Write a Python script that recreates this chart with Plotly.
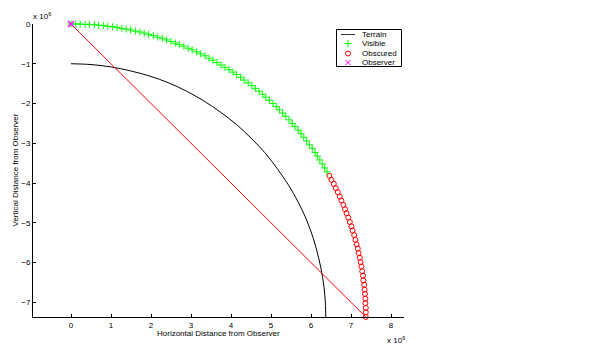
import plotly.graph_objects as go

# Line-of-sight profile, distances in units of 10^6 m
terrain_x = [0.0, 0.50, 1.00, 1.49, 1.97, 2.44, 2.89, 3.33, 3.74, 4.14, 4.50,
             4.84, 5.15, 5.43, 5.68, 5.89, 6.06, 6.19, 6.29, 6.35, 6.37]
terrain_y = [-1.00, -1.02, -1.08, -1.18, -1.31, -1.48, -1.69, -1.94, -2.22, -2.53, -2.87,
             -3.23, -3.63, -4.04, -4.48, -4.93, -5.40, -5.88, -6.37, -6.87, -7.37]

visible_x = [0.0, 0.12, 0.23, 0.35, 0.46, 0.58, 0.69, 0.81, 0.92, 1.04, 1.15, 1.27, 1.38,
             1.49, 1.61, 1.72, 1.83, 1.94, 2.06, 2.17, 2.28, 2.39, 2.50, 2.61, 2.71, 2.82,
             2.93, 3.03, 3.14, 3.24, 3.35, 3.45, 3.55, 3.65, 3.75, 3.85, 3.95, 4.05, 4.14,
             4.24, 4.33, 4.43, 4.52, 4.61, 4.70, 4.79, 4.87, 4.96, 5.05, 5.13, 5.21, 5.29,
             5.37, 5.45, 5.53, 5.60, 5.68, 5.75, 5.82, 5.89, 5.96, 6.03, 6.10, 6.16, 6.22,
             6.28, 6.34, 6.40]
visible_y = [0.0, 0.0, 0.0, -0.01, -0.01, -0.02, -0.03, -0.04, -0.06, -0.07, -0.09, -0.11,
             -0.13, -0.15, -0.18, -0.20, -0.23, -0.26, -0.29, -0.33, -0.36, -0.40, -0.44,
             -0.48, -0.52, -0.56, -0.61, -0.65, -0.70, -0.75, -0.80, -0.86, -0.91, -0.97,
             -1.03, -1.09, -1.15, -1.21, -1.27, -1.34, -1.41, -1.48, -1.55, -1.62, -1.69,
             -1.77, -1.84, -1.92, -2.00, -2.08, -2.16, -2.24, -2.32, -2.41, -2.50, -2.58,
             -2.67, -2.76, -2.85, -2.94, -3.04, -3.13, -3.23, -3.32, -3.42, -3.52, -3.62,
             -3.72]

obscured_x = [6.46, 6.51, 6.57, 6.62, 6.67, 6.72, 6.76, 6.81, 6.85, 6.89, 6.93, 6.97, 7.01,
              7.04, 7.08, 7.11, 7.14, 7.17, 7.19, 7.22, 7.24, 7.26, 7.28, 7.30, 7.31, 7.33,
              7.34, 7.35, 7.36, 7.36, 7.37, 7.37, 7.37]
obscured_y = [-3.82, -3.92, -4.02, -4.13, -4.23, -4.34, -4.44, -4.55, -4.66, -4.76, -4.87,
              -4.98, -5.09, -5.20, -5.31, -5.43, -5.54, -5.65, -5.76, -5.88, -5.99, -6.10,
              -6.22, -6.33, -6.45, -6.56, -6.68, -6.79, -6.91, -7.02, -7.14, -7.25, -7.37]

observer_x = [0.0]
observer_y = [0.0]

x_ticks = [0, 1, 2, 3, 4, 5, 6, 7, 8]
y_ticks = [0, -1, -2, -3, -4, -5, -6, -7]
legend_labels = ["Terrain", "Visible", "Obscured", "Observer"]

GREEN, RED, MAGENTA = "#00ff00", "#ff0000", "#ff00ff"

W, H = 600, 349
L, R, T, B = 33, 404, 24, 317          # plot area in pixels
FONT = dict(family="Liberation Sans, Arial, Helvetica, sans-serif", size=8, color="black")


def fx(p):
    return (p - L) / (R - L)


def fy(p):
    return (B - p) / (B - T)


def marker(sym, col, size=5, width=1):
    return dict(symbol=sym, size=size, color=col, line=dict(color=col, width=width))


fig = go.Figure()

fig.add_trace(go.Scatter(x=terrain_x, y=terrain_y, mode="lines",
                         line=dict(color="black", width=1, shape="spline"),
                         showlegend=False))
# line of sight from the observer to the farthest target
fig.add_trace(go.Scatter(x=[observer_x[0], obscured_x[-1]], y=[observer_y[0], obscured_y[-1]],
                         mode="lines", line=dict(color=RED, width=1),
                         cliponaxis=False, showlegend=False))
fig.add_trace(go.Scatter(x=visible_x, y=visible_y, mode="markers", cliponaxis=False,
                         marker=marker("cross-thin-open", GREEN), showlegend=False))
fig.add_trace(go.Scatter(x=obscured_x, y=obscured_y, mode="markers", cliponaxis=False,
                         marker=marker("circle-open", RED), showlegend=False))
fig.add_trace(go.Scatter(x=observer_x, y=observer_y, mode="markers", cliponaxis=False,
                         marker=marker("x-thin-open", MAGENTA, 6, 1.5), showlegend=False))

# legend box drawn in pixel positions
leg_rows = [34.5, 43.5, 53.5, 62.5]
leg_sym_x = 348
fig.add_shape(type="rect", xref="paper", yref="paper", layer="below",
              x0=fx(336.5), x1=fx(401.5), y0=fy(29.5), y1=fy(66.5),
              line=dict(color="black", width=1), fillcolor="white")
fig.add_shape(type="line", xref="paper", yref="paper",
              x0=fx(341), x1=fx(355), y0=fy(leg_rows[0]), y1=fy(leg_rows[0]),
              line=dict(color="#333333", width=1))
leg_styles = [("cross-thin-open", GREEN), ("circle-open", RED), ("x-thin-open", MAGENTA)]
for (sym, col), row in zip(leg_styles, leg_rows[1:]):
    fig.add_trace(go.Scatter(x=[fx(leg_sym_x)], y=[fy(row)], xaxis="x2", yaxis="y2",
                             mode="markers", cliponaxis=False, showlegend=False,
                             marker=marker(sym, col)))
for label, row in zip(legend_labels, leg_rows):
    fig.add_annotation(x=fx(360), y=fy(row), xref="paper", yref="paper", text=label,
                       showarrow=False, xanchor="left", yanchor="middle", font=FONT)

# axis titles and exponent labels
fig.add_annotation(x=fx(218.5), y=fy(333.5), xref="paper", yref="paper",
                   text="Horizontal Distance from Observer", showarrow=False,
                   xanchor="center", yanchor="middle", font=FONT)
fig.add_annotation(x=fx(15), y=fy(170.5), xref="paper", yref="paper",
                   text="Vertical Distance from Observer", showarrow=False, textangle=-90,
                   xanchor="center", yanchor="middle", font=FONT)
fig.add_annotation(x=fx(31), y=fy(16), xref="paper", yref="paper",
                   text="x 10<sup>6</sup>", showarrow=False,
                   xanchor="left", yanchor="middle", font=FONT)
fig.add_annotation(x=fx(385), y=fy(340), xref="paper", yref="paper",
                   text="x 10<sup>6</sup>", showarrow=False,
                   xanchor="left", yanchor="middle", font=FONT)

fig.update_layout(
    width=W, height=H,
    margin=dict(l=L, r=W - R, t=T, b=H - B, pad=0),
    paper_bgcolor="white", plot_bgcolor="white",
    font=FONT,
    showlegend=False,
    xaxis=dict(range=[-0.95, 8.325], tickvals=x_ticks, ticks="inside", ticklen=3,
               tickcolor="black", showline=True, linecolor="black", linewidth=1,
               showgrid=False, zeroline=False, mirror=False, tickfont=FONT),
    yaxis=dict(range=[-7.37, 0], tickvals=y_ticks, ticks="inside", ticklen=3,
               tickcolor="black", showline=True, linecolor="black", linewidth=1,
               showgrid=False, zeroline=False, mirror=False, tickfont=FONT),
    xaxis2=dict(overlaying="x", range=[0, 1], visible=False),
    yaxis2=dict(overlaying="y", range=[0, 1], visible=False),
)

fig.write_html("out.html")
